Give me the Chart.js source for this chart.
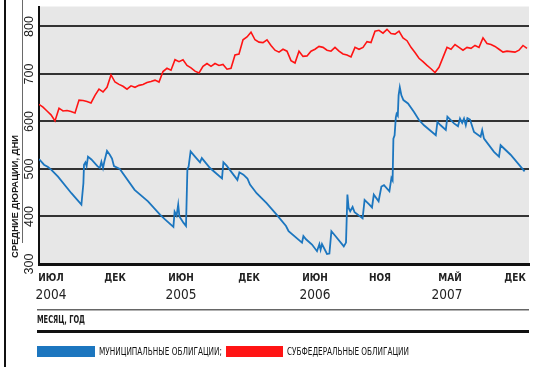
<!DOCTYPE html>
<html lang="ru">
<head>
    <meta charset="UTF-8">
    <title>Средние дюрации облигаций</title>
    <script src="https://cdn.jsdelivr.net/npm/chart.js"></script>
    <style>
        body { margin: 0; background: #ffffff; }
        #wrap { width: 539px; height: 370px; }
    </style>
</head>
<body>
    <div id="wrap">
        <canvas id="durChart" width="539" height="370"></canvas>
    </div>

    <script>
        // субфедеральные облигации: равные шаги по времени
        const redValues = [
            636, 630, 622, 614, 601, 628, 622, 623, 621, 618,
            645, 644, 642, 639, 655, 668, 662, 672, 698, 683,
            678, 674, 668, 675, 672, 676, 678, 682, 684, 687,
            683, 705, 712, 708, 730, 726, 730, 718, 713, 706,
            702, 716, 722, 716, 722, 718, 720, 710, 712, 740,
            742, 772, 778, 788, 772, 767, 766, 772, 760, 750,
            746, 752, 748, 728, 723, 748, 737, 738, 748, 752,
            758, 756, 750, 748, 756, 748, 742, 740, 736, 756,
            752, 756, 768, 766, 790, 792, 786, 794, 785, 784,
            790, 776, 770, 756, 745, 733, 726, 718, 711, 703,
            714, 735, 756, 752, 762, 756, 750, 756, 754, 760,
            756, 776, 764, 762, 758, 752, 746, 748, 747, 746,
            750, 760, 754
        ];

        // муниципальные облигации: время (в тех же шагах) и значения
        const blueTime = [
            0, 1.25, 2.25, 3.1, 4.75, 8.1, 10.6, 11.1, 11.25, 11.6,
            11.9, 12.25, 13.1, 14.6, 15.2, 15.6, 16.0, 16.4, 17.0, 17.7,
            18.25, 18.75, 20.2, 23.9, 27.25, 30.25, 31.5, 33.6, 33.9, 34.4,
            34.8, 35.1, 36.1, 36.75, 37.1, 37.4, 37.9, 39.0, 40.25, 40.7,
            42.75, 45.75, 46.1, 46.9, 49.6, 50.1, 51.1, 52.1, 52.75, 54.4,
            56.9, 59.4, 61.75, 62.4, 65.75, 66.1, 66.75, 68.25, 69.5, 70.1,
            70.4, 70.75, 72.0, 72.6, 73.1, 74.1, 76.2, 76.75, 77.1, 77.4,
            77.8, 78.4, 78.9, 80.9, 81.4, 82.6, 83.25, 83.7, 84.9, 85.6,
            86.25, 87.6, 88.1, 88.4, 88.6, 88.9, 89.2, 89.4, 89.7, 89.9,
            90.2, 90.6, 91.1, 92.25, 93.75, 95.0, 96.25, 99.2, 99.6, 100.4,
            101.7, 102.1, 103.75, 104.75, 105.25, 105.8, 106.25, 106.7, 107.1, 107.75,
            108.75, 110.4, 110.8, 111.25, 113.75, 115.0, 115.4, 117.9, 121.4
        ];
        const blueValues = [
            521, 509, 504, 498, 484, 449, 425, 470, 509, 514,
            506, 526, 520, 506, 502, 515, 502, 518, 538, 530,
            522, 506, 500, 456, 432, 404, 394, 378, 410, 402,
            425, 400, 387, 380, 500, 505, 537, 526, 514, 523,
            502, 480, 514, 507, 477, 493, 488, 480, 467, 449,
            428, 404, 380, 369, 345, 359, 352, 341, 327, 342,
            330, 342, 321, 322, 369, 359, 337, 345, 446, 418,
            411, 420, 409, 396, 435, 425, 419, 446, 432, 463,
            466, 453, 481, 476, 564, 571, 608, 616, 612, 655,
            672, 655, 645, 638, 620, 603, 592, 571, 599, 592,
            582, 610, 596, 590, 606, 597, 606, 592, 607, 604,
            578, 568, 582, 564, 536, 526, 550, 530, 495
        ];

        const monthTicks = [3, 19, 35.5, 52.5, 69, 85.25, 102.75, 119];
        const monthLabels = ['ИЮЛ', 'ДЕК', 'ИЮН', 'ДЕК', 'ИЮН', 'НОЯ', 'МАЙ', 'ДЕК'];
        const yearTicks = [3, 35.5, 69, 102];
        const yearLabels = ['2004', '2005', '2006', '2007'];
        const yTicks = [300, 400, 500, 600, 700, 800];

        const yTitle = 'СРЕДНИЕ ДЮРАЦИИ, ДНИ';
        const xTitle = 'МЕСЯЦ, ГОД';

        const BLUE = '#1c76bf';
        const RED = '#ff1414';
        const NARROW = "'Liberation Sans Narrow', 'Arial Narrow', 'DejaVu Sans Condensed', sans-serif";
        const SANS = "'Liberation Sans', Arial, sans-serif";

        // текст, сжатый по ширине до нужного размера
        function fitText(ctx, text, x, y, width) {
            const w = ctx.measureText(text).width;
            ctx.save();
            ctx.translate(x, y);
            ctx.scale(width / w, 1);
            ctx.fillText(text, 0, 0);
            ctx.restore();
        }

        const decor = {
            id: 'decor',
            beforeDraw(chart) {
                const {ctx, chartArea: a} = chart;
                ctx.save();
                ctx.fillStyle = '#e7e7e7';
                ctx.fillRect(a.left, a.top, a.right - a.left, a.bottom - a.top);
                ctx.restore();
            },
            afterDraw(chart) {
                const {ctx, chartArea: a} = chart;
                const L = a.left - 2;
                const W = a.right - L;
                ctx.save();

                // рамка слева и разделители
                ctx.fillStyle = '#111';
                ctx.fillRect(4, 0, 2, 367);
                ctx.fillStyle = '#6a6a6a';
                ctx.fillRect(22, 0, 1, a.bottom - 21);
                ctx.fillStyle = '#666';
                ctx.fillRect(L, a.bottom + 45, W, 1.5);
                ctx.fillStyle = '#111';
                ctx.fillRect(L, a.bottom + 66, W, 3);

                // подписи осей
                ctx.fillStyle = '#1a1a1a';
                ctx.textBaseline = 'middle';
                ctx.textAlign = 'left';
                ctx.font = 'bold 9px ' + SANS;
                ctx.save();
                ctx.translate(15.5, 258);
                ctx.rotate(-Math.PI / 2);
                fitText(ctx, yTitle, 0, 0, 123);
                ctx.restore();

                ctx.font = 'bold 10px ' + NARROW;
                fitText(ctx, xTitle, L, a.bottom + 56, 48);

                // легенда
                const boxes = [[L, 58, 123], [226, 57, 122]];
                ctx.font = '10px ' + NARROW;
                chart.data.datasets.forEach((ds, i) => {
                    const [bx, bw, tw] = boxes[i];
                    ctx.fillStyle = ds.borderColor;
                    ctx.fillRect(bx, a.bottom + 82, bw, 11);
                    ctx.fillStyle = '#111';
                    fitText(ctx, ds.label, bx + bw + 4, a.bottom + 88, tw);
                });
                ctx.restore();
            }
        };

        const ctx = document.getElementById('durChart').getContext('2d');
        const durChart = new Chart(ctx, {
            type: 'line',
            data: {
                datasets: [
                    {
                        label: 'МУНИЦИПАЛЬНЫЕ ОБЛИГАЦИИ;',
                        data: blueTime.map((t, i) => ({x: t, y: blueValues[i]})),
                        borderColor: BLUE,
                        borderWidth: 1.8,
                        pointRadius: 0,
                        tension: 0
                    },
                    {
                        label: 'СУБФЕДЕРАЛЬНЫЕ ОБЛИГАЦИИ',
                        data: redValues.map((v, i) => ({x: i, y: v})),
                        borderColor: RED,
                        borderWidth: 1.6,
                        pointRadius: 0,
                        tension: 0
                    }
                ]
            },
            options: {
                responsive: false,
                animation: false,
                devicePixelRatio: 1,
                layout: { padding: { left: 0, right: 10, top: 4, bottom: 60 } },
                plugins: { legend: { display: false }, tooltip: { enabled: false } },
                scales: {
                    x: {
                        type: 'linear', position: 'bottom', weight: 0,
                        min: 0, max: 122.5,
                        grid: { display: false, drawTicks: false },
                        border: { display: true, color: '#111', width: 3 },
                        ticks: {
                            autoSkip: false, maxRotation: 0, padding: 8, color: '#222',
                            font: { family: NARROW, size: 10, weight: 'bold' },
                            callback: (v, i) => monthLabels[i]
                        },
                        afterBuildTicks: s => { s.ticks = monthTicks.map(v => ({value: v})); },
                        afterFit: s => { s.height = 20; }
                    },
                    years: {
                        type: 'linear', axis: 'x', position: 'bottom', weight: 1,
                        min: 0, max: 122.5,
                        grid: { display: false, drawTicks: false },
                        border: { display: false },
                        ticks: {
                            autoSkip: false, maxRotation: 0, padding: 3, color: '#222',
                            font: { family: NARROW, size: 13.5 },
                            callback: (v, i) => yearLabels[i]
                        },
                        afterBuildTicks: s => { s.ticks = yearTicks.map(v => ({value: v})); },
                        afterFit: s => { s.height = 26; }
                    },
                    y: {
                        min: 300, max: 842,
                        grid: { color: '#333', lineWidth: 2, drawTicks: false },
                        border: { display: true, color: '#111', width: 2 },
                        ticks: {
                            autoSkip: false, minRotation: 90, maxRotation: 90,
                            crossAlign: 'center', padding: -1, color: '#222',
                            font: { family: SANS, size: 12.5 }
                        },
                        afterBuildTicks: s => { s.ticks = yTicks.map(v => ({value: v})); },
                        afterFit: s => { s.width = 39; }
                    }
                }
            },
            plugins: [decor]
        });
    </script>
</body>
</html>
